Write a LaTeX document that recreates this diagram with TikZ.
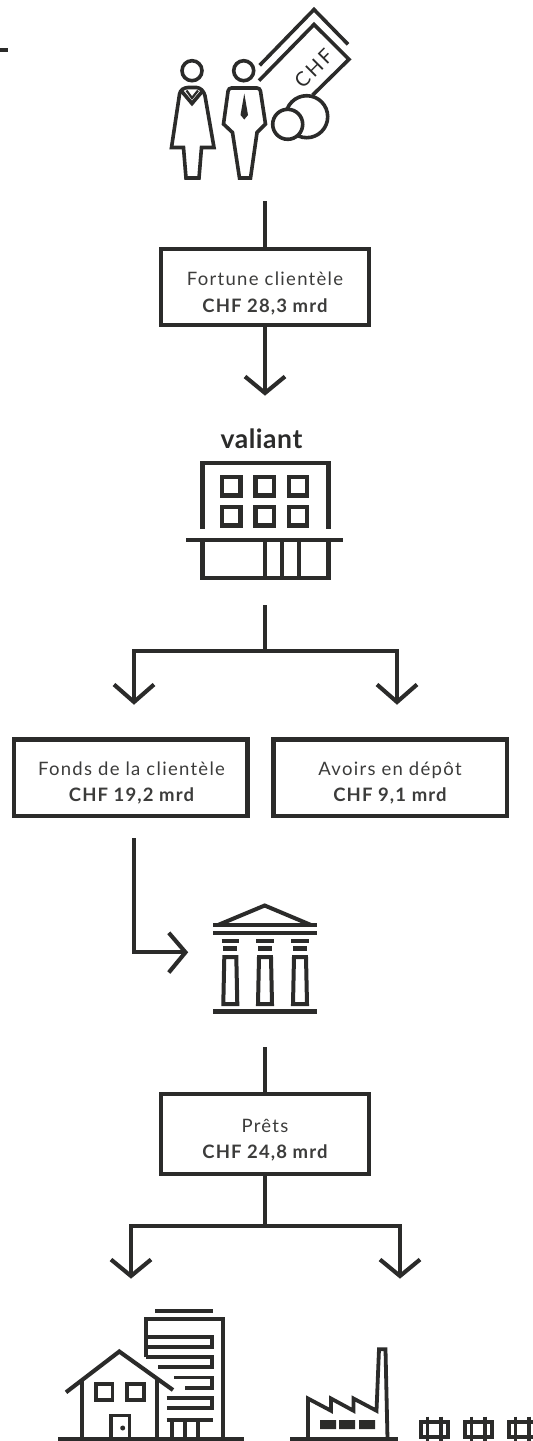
\documentclass[tikz,border=0pt]{standalone}
\usepackage{fontspec}
\setmainfont{Lato}
\definecolor{ink}{HTML}{2B2B2A}
\definecolor{txt}{HTML}{3C3C3B}
\tikzset{
  x=1pt,y=-1pt,
  ln/.style={draw=ink,line width=4.1pt,line cap=butt,line join=miter},
  th/.style={draw=ink,line width=3.6pt,line join=miter},
  infobox/.style={draw=ink,line width=4.3pt,fill=white,inner sep=0pt,text=txt,align=center},
  lbl/.style={text=txt,align=center,inner sep=0pt,font=\fontsize{18.5}{26.3}\selectfont},
}
\newfontfamily\lsp[LetterSpace=7]{Lato}
\newfontfamily\lsb[LetterSpace=6]{Lato}
\newfontfamily\lsv[LetterSpace=2]{Lato}
\newfontfamily\lsc[LetterSpace=12]{Lato}
\newcommand{\tl}[2]{{\lsp #1}\\{\lsb\bfseries #2}}
\begin{document}
\begin{tikzpicture}
\useasboundingbox (0,0) rectangle (533,1441);
\fill[white] (0,0) rectangle (533,1441);
\draw[th] (0,50) -- (8,50);
% people
\draw[th] (192,70.7) circle (10);
\draw[th] (171.5,147.5) [rounded corners=3pt] -- (180,91) -- (185,87.5) -- (199.5,87.5) -- (204.5,93) [sharp corners] -- (214,147.5) -- (201.5,147.5) -- (199,178) -- (186,178) -- (183.5,147.5) -- cycle;
\draw[th] (181,90.5) -- (192,103.5) -- (203,90.5);
\draw[th,line width=2.2pt] (186.5,90.5) -- (192,98) -- (198,90.5);
\draw[th] (243.7,70.7) circle (10);
\draw[th] (223.5,124) [rounded corners=3pt] -- (228.5,88) -- (260,88) [sharp corners] -- (265.5,124) -- (257,132.5) -- (250.5,178) -- (239.5,178) -- (232.5,132.5) -- cycle;
\fill[ink] (244.3,93.5) -- (240.5,115) -- (244.3,119.5) -- (248,115) -- cycle;
\draw[th] (259.7,65.3) -- (314,9.5) -- (348,44.3);
\draw[th] (259,80.7) -- (314,24.5) -- (349,59.3) -- (312.7,95);
\node[rotate=45,text=ink,inner sep=0pt,font=\fontsize{20}{20}\selectfont\lsc] (chf) at (313.7,68.3) {CHF};
\draw[th,fill=white] (306.7,116.7) circle (21);
\draw[th,fill=white] (287.7,124.3) circle (15);
% connector 1
\node[infobox,minimum width=208pt,minimum height=76pt] (b1) at (265,287) {};
\node[lbl] (t1) at (265,293.5) {\tl{Fortune clientèle}{CHF 28,3 mrd}};
\coordinate (s1) at (265,201);
\coordinate (e1) at (265,393);
\draw[ln] (s1) -- (b1.north);
\draw[ln] (b1.south) -- (e1);
\draw[ln] (245,376.5) -- (e1) -- (285,376.5);
% valiant
\node[text=ink,inner sep=0pt,anchor=base,font=\fontsize{26.5}{26.5}\selectfont\lsv\bfseries] (val) at (261.5,448.3) {valiant};
\draw[ln] (202.5,528.7) -- (202.5,462.7) -- (328.5,462.7) -- (328.5,528.7);
\foreach \a in {222.2,255.5,288.9}{\foreach \b in {477.2,507.2}{
  \draw[th,line width=4.4pt] (\a,\b) rectangle ++(18.3,18.3);}}
\draw[ln] (186,540) -- (343.3,540);
\draw[ln] (202.5,540) -- (202.5,577.8) -- (328.5,577.8) -- (328.5,540);
\draw[th,line width=3.8pt] (265,540) -- (265,577) (281.7,540) -- (281.7,577) (299,540) -- (299,577);
% split
\coordinate (s2) at (265,605);
\coordinate (j2) at (265,651);
\coordinate (l2) at (134,651);
\coordinate (r2) at (397,651);
\coordinate (le2) at (134,702);
\coordinate (re2) at (397,702);
\draw[ln] (s2) -- (j2);
\draw[ln] (le2) -- (l2) -- (r2) -- (re2);
\draw[ln] (114,684.5) -- (le2) -- (154,684.5);
\draw[ln] (377,684.5) -- (re2) -- (417,684.5);
% boxes
\node[infobox,minimum width=233.3pt,minimum height=76.7pt] (b2) at (130.7,777.7) {};
\node[lbl] (t2) at (131.5,783) {\tl{Fonds de la clientèle}{CHF 19,2 mrd}};
\node[infobox,minimum width=233.3pt,minimum height=76.7pt] (b3) at (390,777.7) {};
\node[lbl] (t3) at (390,783) {\tl{Avoirs en dépôt}{CHF 9,1 mrd}};
\coordinate (s3) at (134,838);
\coordinate (c3) at (134,952.3);
\coordinate (e3) at (185.5,952.3);
\draw[ln] (s3) -- (c3) -- (e3);
\draw[ln] (168.8,932.8) -- (e3) -- (168.8,972.5);
% temple
\draw[ln,line width=4pt] (218,925) -- (264.7,905.5) -- (311,925);
\draw[ln,line width=4.6pt] (213.3,925) -- (316.7,925);
\draw[ln,line width=4.6pt] (213.3,933) -- (316.7,933);
\foreach \c in {230.3,265,300}{
  \draw[ln,line width=4.6pt] (\c-8.7,941) -- (\c+8.7,941);
  \draw[ln,line width=4.6pt] (\c-7,948.7) -- (\c+7,948.7);
  \draw[th,line width=4pt] (\c-6,957) -- (\c+6,957) -- (\c+7,1004) -- (\c-7,1004) -- cycle;
}
\draw[ln,line width=4.6pt] (213.3,1011.7) -- (316.7,1011.7);
% loans
\coordinate (s4) at (265,1047);
\node[infobox,minimum width=207.4pt,minimum height=80pt] (b4) at (265,1133.7) {};
\node[lbl] (t4) at (265,1140.5) {\tl{Prêts}{CHF 24,8 mrd}};
\coordinate (j4) at (265,1225.7);
\coordinate (l4) at (131,1225.7);
\coordinate (r4) at (400,1225.7);
\coordinate (le4) at (131,1276);
\coordinate (re4) at (400,1276);
\draw[ln] (s4) -- (b4.north);
\draw[ln] (b4.south) -- (j4);
\draw[ln] (le4) -- (l4) -- (r4) -- (re4);
\draw[ln] (111,1259.5) -- (le4) -- (151,1259.5);
\draw[ln] (380,1259.5) -- (re4) -- (420,1259.5);
% house
\draw[ln] (58.3,1439.3) -- (244.3,1439.3);
\draw[ln] (66,1392.3) -- (119.3,1351.5) -- (173,1390);
\draw[ln,line width=3.8pt] (82.3,1379) -- (82.3,1439) (157.3,1379) -- (157.3,1439);
\draw[ln,line width=3.8pt] (95.8,1384) rectangle (112.4,1400);
\draw[ln,line width=3.8pt] (127,1384) rectangle (143.6,1400);
\draw[ln,line width=3.8pt] (110.8,1439) -- (110.8,1415.5) -- (129.5,1415.5) -- (129.5,1439);
\fill[ink] (122.7,1428) circle (2.5);
% tower
\draw[ln,line width=3.8pt] (155,1310.7) -- (213.3,1310.7);
\draw[ln,line width=3.8pt] (146.3,1357.3) -- (146.3,1319.3) -- (223.3,1319.3) -- (223.3,1439);
\draw[ln,line width=3.8pt] (146.3,1337.3) -- (211.7,1337.3) -- (211.7,1347.3) -- (146.3,1347.3);
\draw[ln,line width=3.8pt] (146.3,1357.3) -- (211.7,1357.3) -- (211.7,1367.3) -- (158.3,1367.3);
\draw[ln,line width=3.8pt] (174.3,1377.5) -- (211.7,1377.5) -- (211.7,1387.7) -- (185,1387.7);
\draw[ln,line width=3.8pt] (166.7,1398) -- (211.7,1398) -- (211.7,1408) -- (166.7,1408);
\draw[ln,line width=3.8pt] (166.7,1420.3) -- (213.3,1420.3);
\draw[ln,line width=3.8pt] (172.3,1420) -- (172.3,1439) (185,1420) -- (185,1439) (197.7,1420) -- (197.7,1439);
% factory
\draw[ln] (290,1439.3) -- (398,1439.3);
\draw[ln,line width=3.8pt] (308,1439) -- (308,1398.5) -- (331,1410.7) -- (331,1398.5) -- (353.5,1410.7) -- (353.5,1398.5) -- (376.5,1410.7) -- (379,1349.3) -- (385.5,1349.3) -- (387.5,1439);
\fill[ink] (320,1420) rectangle (336,1429) (339,1420) rectangle (355,1429) (359,1420) rectangle (375,1429);
% fence
\foreach \f in {0,44,88}{
  \draw[ln,line width=4.2pt] (420.8+\f,1421.6) rectangle (448.2+\f,1437);
  \draw[ln,line width=3.6pt] (427.5+\f,1416.5) -- (427.5+\f,1441) (441+\f,1416.5) -- (441+\f,1441);
}
\end{tikzpicture}
\end{document}
